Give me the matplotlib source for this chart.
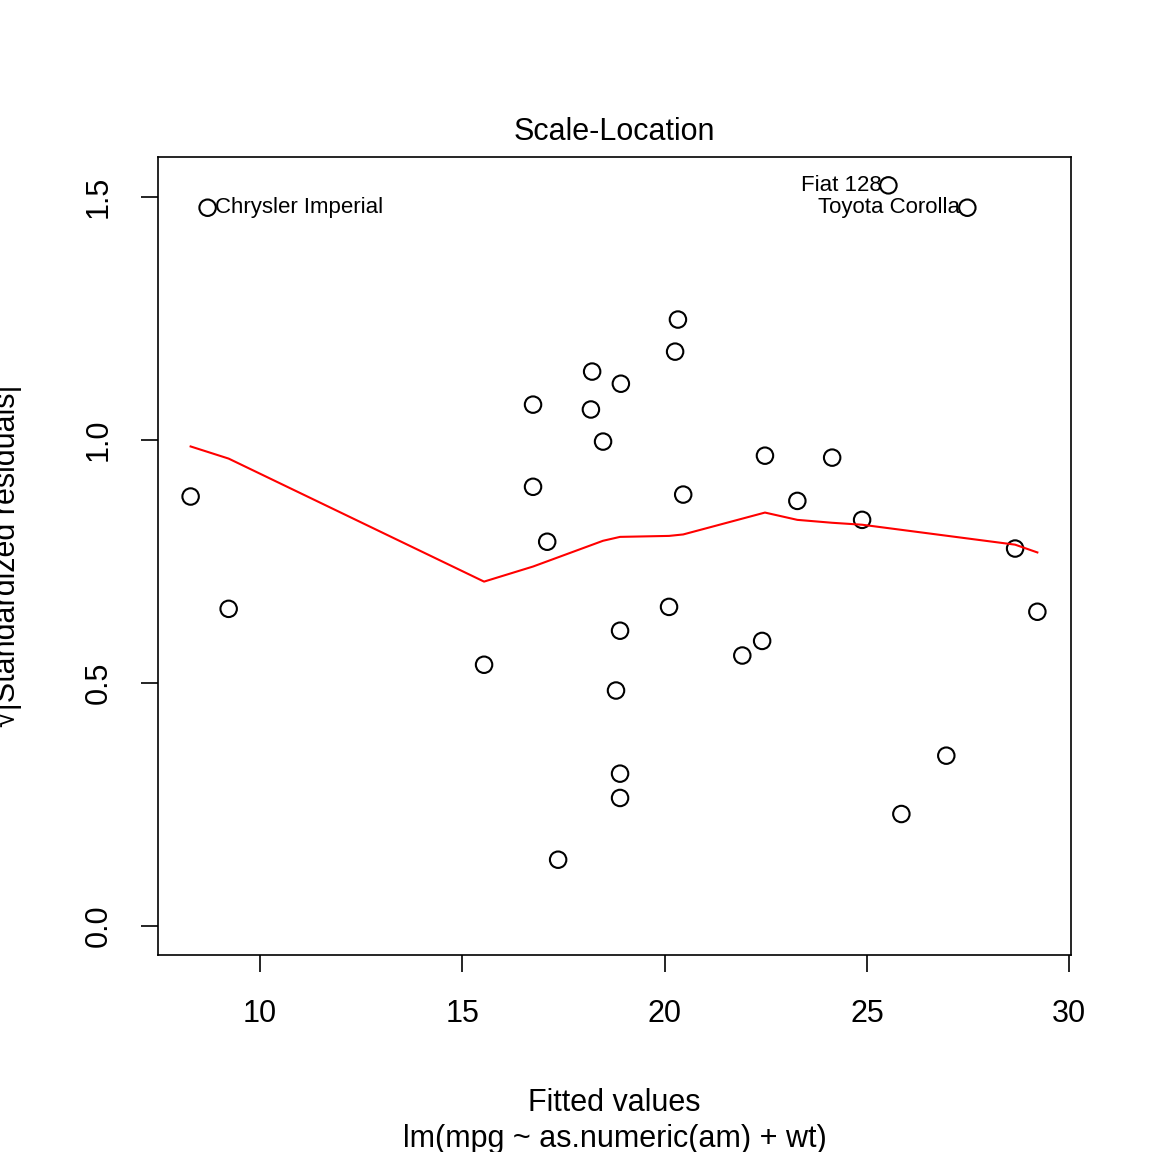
import matplotlib
matplotlib.use("Agg")
import matplotlib.pyplot as plt

plt.rcParams['font.family'] = ['Liberation Sans', 'DejaVu Sans']

# points
fitted = [8.29, 9.23, 8.71, 15.54, 16.75, 16.75, 17.10, 17.37, 18.21, 18.18, 18.48,
          18.92, 18.90, 18.80, 18.90, 18.90, 20.33, 20.26, 20.46, 20.11, 21.92, 22.41,
          22.48, 23.28, 24.14, 24.88, 25.53, 25.85, 26.96, 27.48, 28.66, 29.21]
sqrt_res = [0.883, 0.652, 1.477, 0.537, 1.072, 0.903, 0.790, 0.136, 1.140, 1.062, 0.996,
            1.115, 0.607, 0.484, 0.313, 0.263, 1.247, 1.181, 0.887, 0.656, 0.556, 0.586,
            0.967, 0.874, 0.963, 0.835, 1.523, 0.230, 0.350, 1.477, 0.776, 0.646]

smooth_x = [8.29, 9.23, 15.54, 16.75, 18.48, 18.90, 20.11, 20.46, 22.48, 23.28, 24.14, 24.88, 28.66, 29.21]
smooth_y = [0.986, 0.961, 0.708, 0.739, 0.792, 0.800, 0.802, 0.805, 0.850, 0.835, 0.829, 0.825, 0.784, 0.768]

labels = ["Chrysler Imperial", "Fiat 128", "Toyota Corolla"]
label_x = [8.71, 25.53, 27.48]
label_y = [1.477, 1.523, 1.477]
label_side = ["right", "left", "left"]

fig = plt.figure(figsize=(11.52, 11.52), dpi=100)
ax = fig.add_axes([0.137, 0.171, 0.793, 0.693])

ax.scatter(fitted, sqrt_res, s=140, facecolors='none', edgecolors='black', linewidths=1.5)
ax.plot(smooth_x, smooth_y, color='red', lw=1.5)

for lab, lx, ly, side in zip(labels, label_x, label_y, label_side):
    dx = 5 if side == "right" else -5
    ax.annotate(lab, (lx, ly), xytext=(dx, 0), textcoords='offset points',
                ha='left' if side == "right" else 'right', va='center', fontsize=16)

ax.set_xlim(7.48, 30.05)
ax.set_ylim(-0.06, 1.582)
ax.set_xticks([10, 15, 20, 25, 30])
ax.set_yticks([0.0, 0.5, 1.0, 1.5])
ax.set_yticklabels(["0.0", "0.5", "1.0", "1.5"], rotation=90, va='center')
ax.tick_params(labelsize=22, length=12, width=1.2, pad=20)
for sp in ax.spines.values():
    sp.set_linewidth(1.2)

ax.set_title("Scale-Location", fontsize=22, pad=12)
ax.set_xlabel("Fitted values\nlm(mpg ~ as.numeric(am) + wt)", fontsize=22, labelpad=42, linespacing=1.25)
ax.set_ylabel("√|Standardized residuals|", fontsize=22, labelpad=44)

fig.savefig("out.png", dpi=100)
